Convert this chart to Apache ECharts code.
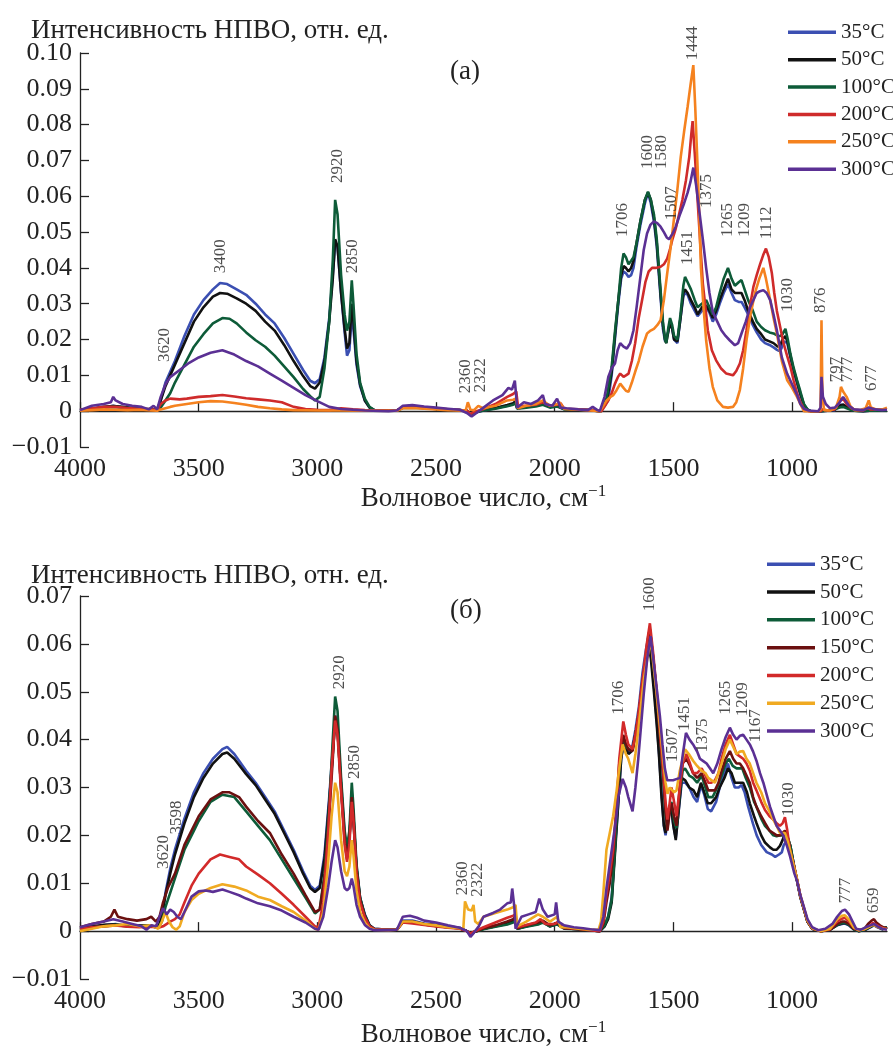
<!DOCTYPE html>
<html>
<head>
<meta charset="utf-8">
<title>НПВО спектры</title>
<script src="https://cdn.jsdelivr.net/npm/echarts@6/dist/echarts.min.js"></script>
<style>
html, body { margin: 0; padding: 0; background: #fff; }
#main { width: 893px; height: 1049px; }
</style>
</head>
<body>
<div id="main"></div>
<script>
// ---- data: [wavenumber, intensity] ----
var xTicks = [4000, 3500, 3000, 2500, 2000, 1500, 1000];
var tempNames = ['35°C', '50°C', '100°C', '150°C', '200°C', '250°C', '300°C'];

// panel (а)
var a35 = [[4000,0.0003],[3950,0.0008],[3900,0.001],[3860,0.0015],[3820,0.001],[3780,0.0008],[3740,0.0006],[3700,0.0005],[3675,0.0003],[3660,0.003],[3640,0.008],[3620,0.011],[3600,0.014],[3560,0.021],[3520,0.027],[3480,0.031],[3440,0.034],[3410,0.0358],[3380,0.0355],[3340,0.034],[3300,0.0325],[3260,0.030],[3220,0.027],[3180,0.0245],[3140,0.0205],[3100,0.016],[3060,0.0115],[3030,0.0085],[3010,0.0078],[2990,0.009],[2970,0.015],[2950,0.026],[2935,0.038],[2925,0.047],[2915,0.046],[2900,0.033],[2885,0.022],[2875,0.0155],[2865,0.017],[2855,0.027],[2848,0.023],[2835,0.013],[2820,0.007],[2800,0.003],[2780,0.001],[2760,0.0003],[2700,0.0001],[2665,0.0002],[2640,0.001],[2600,0.0012],[2550,0.001],[2500,0.0007],[2450,0.0005],[2400,0.0003],[2370,0.0002],[2355,-0.0012],[2340,-0.0005],[2300,0.0002],[2250,0.0008],[2200,0.0015],[2175,0.002],[2165,0.0025],[2158,0.0008],[2120,0.0012],[2080,0.0015],[2050,0.002],[2020,0.0012],[1990,0.0015],[1960,0.0006],[1900,0.0004],[1850,0.0003],[1810,0],[1790,0.0015],[1775,0.003],[1760,0.010],[1745,0.021],[1732,0.030],[1720,0.037],[1710,0.039],[1700,0.0385],[1689,0.0375],[1678,0.038],[1668,0.040],[1655,0.046],[1639,0.052],[1620,0.058],[1607,0.061],[1595,0.058],[1582,0.053],[1570,0.046],[1561,0.038],[1552,0.030],[1544,0.023],[1535,0.0195],[1530,0.019],[1522,0.022],[1514,0.025],[1505,0.023],[1497,0.020],[1483,0.019],[1470,0.026],[1458,0.032],[1451,0.033],[1440,0.0325],[1426,0.030],[1410,0.028],[1398,0.0265],[1380,0.028],[1362,0.029],[1348,0.0275],[1334,0.025],[1320,0.027],[1305,0.030],[1288,0.033],[1270,0.0355],[1255,0.033],[1241,0.031],[1225,0.0305],[1213,0.0305],[1200,0.029],[1185,0.027],[1165,0.024],[1149,0.022],[1130,0.020],[1114,0.019],[1095,0.0185],[1078,0.0178],[1065,0.0172],[1055,0.0168],[1045,0.0175],[1035,0.0195],[1020,0.019],[1007,0.015],[993,0.011],[979,0.0078],[965,0.0045],[950,0.0015],[935,0.0004],[922,0],[880,0],[850,0.0001],[820,0.0003],[805,0.0012],[797,0.0018],[785,0.0018],[770,0.0012],[750,0.0005],[730,0.0002],[700,0],[660,0.0002],[630,0.0001],[600,0.0002]];
var a50 = [[4000,0.0004],[3950,0.0006],[3900,0.0012],[3860,0.0014],[3820,0.0012],[3780,0.0009],[3740,0.0007],[3700,0.0006],[3675,0.0004],[3660,0.003],[3640,0.007],[3620,0.010],[3600,0.013],[3560,0.019],[3520,0.025],[3480,0.029],[3440,0.032],[3410,0.033],[3380,0.0328],[3340,0.0315],[3300,0.030],[3260,0.028],[3220,0.025],[3180,0.0225],[3140,0.0185],[3100,0.014],[3060,0.0098],[3030,0.007],[3010,0.0063],[2990,0.008],[2970,0.014],[2950,0.025],[2935,0.037],[2925,0.048],[2915,0.046],[2900,0.033],[2885,0.023],[2875,0.0175],[2865,0.019],[2855,0.030],[2848,0.025],[2835,0.014],[2820,0.0075],[2800,0.003],[2780,0.001],[2760,0.0003],[2700,0.0001],[2665,0.0002],[2640,0.001],[2600,0.0011],[2550,0.0009],[2500,0.0006],[2450,0.0004],[2400,0.0003],[2370,0.0001],[2355,-0.001],[2340,-0.0004],[2300,0.0003],[2250,0.0009],[2200,0.0017],[2175,0.0022],[2165,0.0028],[2158,0.0009],[2120,0.0013],[2080,0.0016],[2050,0.0022],[2020,0.0013],[1990,0.0016],[1960,0.0006],[1900,0.0004],[1850,0.0003],[1810,0],[1790,0.0015],[1780,0.003],[1760,0.011],[1745,0.022],[1732,0.031],[1720,0.038],[1710,0.0405],[1700,0.040],[1689,0.039],[1678,0.040],[1668,0.042],[1655,0.047],[1639,0.053],[1620,0.059],[1607,0.061],[1595,0.059],[1582,0.054],[1570,0.047],[1561,0.039],[1552,0.031],[1544,0.024],[1535,0.020],[1530,0.019],[1522,0.022],[1514,0.025],[1505,0.023],[1497,0.020],[1483,0.0195],[1470,0.026],[1458,0.033],[1451,0.034],[1440,0.033],[1426,0.031],[1410,0.029],[1398,0.027],[1380,0.029],[1362,0.0295],[1348,0.028],[1334,0.026],[1320,0.028],[1305,0.031],[1288,0.034],[1270,0.037],[1255,0.034],[1241,0.033],[1225,0.033],[1213,0.033],[1200,0.031],[1185,0.028],[1165,0.025],[1149,0.023],[1130,0.0215],[1114,0.020],[1095,0.0195],[1078,0.019],[1060,0.018],[1050,0.0185],[1040,0.020],[1028,0.021],[1018,0.019],[1007,0.0155],[993,0.0115],[979,0.0082],[965,0.005],[950,0.0018],[935,0.0004],[922,0],[880,0],[850,0.0001],[820,0.0004],[805,0.0015],[797,0.002],[785,0.0018],[770,0.0012],[750,0.0004],[730,0.0002],[700,0],[660,0.0002],[630,0.0001],[600,0.0002]];
var a100 = [[4000,0.0003],[3950,0.0007],[3900,0.001],[3860,0.0012],[3820,0.001],[3780,0.0008],[3740,0.0006],[3700,0.0005],[3675,0.0003],[3660,0.001],[3640,0.003],[3620,0.005],[3600,0.008],[3560,0.013],[3520,0.018],[3480,0.0215],[3440,0.0245],[3400,0.026],[3370,0.0258],[3340,0.0245],[3300,0.022],[3260,0.0198],[3220,0.018],[3180,0.0155],[3140,0.0125],[3100,0.0095],[3060,0.0062],[3030,0.0042],[3010,0.003],[2990,0.004],[2970,0.012],[2950,0.025],[2935,0.042],[2925,0.059],[2915,0.055],[2900,0.038],[2885,0.027],[2875,0.0225],[2865,0.025],[2855,0.0365],[2848,0.030],[2835,0.016],[2820,0.008],[2800,0.0035],[2780,0.0012],[2760,0.0003],[2700,0.0001],[2665,0.0002],[2640,0.0009],[2600,0.001],[2550,0.0008],[2500,0.0006],[2450,0.0004],[2400,0.0003],[2370,0.0001],[2355,-0.001],[2340,-0.0004],[2300,0.0002],[2250,0.0007],[2200,0.0014],[2175,0.0018],[2165,0.0022],[2158,0.0007],[2120,0.001],[2080,0.0013],[2050,0.0018],[2020,0.001],[1990,0.0013],[1960,0.0005],[1900,0.0004],[1850,0.0003],[1803,0],[1780,0.004],[1760,0.0124],[1745,0.023],[1732,0.031],[1720,0.040],[1710,0.044],[1700,0.043],[1689,0.041],[1678,0.042],[1668,0.043],[1655,0.047],[1639,0.053],[1620,0.059],[1607,0.0613],[1595,0.059],[1582,0.055],[1570,0.048],[1561,0.040],[1552,0.032],[1544,0.025],[1535,0.020],[1530,0.019],[1522,0.023],[1514,0.026],[1505,0.024],[1497,0.021],[1483,0.020],[1470,0.027],[1458,0.035],[1451,0.0375],[1440,0.036],[1426,0.034],[1410,0.031],[1398,0.029],[1380,0.030],[1362,0.031],[1348,0.029],[1334,0.027],[1320,0.029],[1305,0.033],[1288,0.037],[1270,0.040],[1255,0.037],[1241,0.035],[1225,0.036],[1213,0.0366],[1200,0.034],[1185,0.031],[1165,0.028],[1149,0.025],[1130,0.0235],[1114,0.0226],[1095,0.022],[1078,0.0217],[1060,0.021],[1050,0.021],[1040,0.0215],[1028,0.023],[1018,0.020],[1007,0.016],[993,0.012],[979,0.0087],[965,0.0055],[950,0.002],[935,0.0005],[922,0],[880,0],[850,0.0002],[820,0.0005],[800,0.001],[785,0.0012],[770,0.0008],[750,0.0003],[720,0],[680,0.0002],[650,0.0001],[620,0.0002],[600,0.0002]];
var a200 = [[4000,0.0004],[3950,0.0008],[3900,0.0012],[3850,0.0012],[3800,0.0009],[3750,0.0007],[3700,0.0005],[3675,0.0004],[3660,0.002],[3640,0.003],[3620,0.0035],[3580,0.0033],[3550,0.0035],[3500,0.004],[3450,0.0042],[3400,0.0045],[3350,0.0041],[3300,0.0036],[3250,0.0033],[3200,0.003],[3150,0.0025],[3100,0.0012],[3050,0.0006],[3000,0.0004],[2950,0.0003],[2900,0.0008],[2850,0.0005],[2800,0.0003],[2700,0.0002],[2665,0.0002],[2640,0.0012],[2600,0.0013],[2550,0.0011],[2500,0.0008],[2450,0.0005],[2400,0.0003],[2370,0.0002],[2355,-0.0008],[2340,-0.0002],[2300,0.0006],[2250,0.002],[2200,0.004],[2175,0.0048],[2162,0.0055],[2155,0.0015],[2120,0.0015],[2080,0.0018],[2050,0.0025],[2020,0.0015],[1990,0.0018],[1975,0.0022],[1960,0.0007],[1900,0.0005],[1850,0.0003],[1803,0],[1788,0.0015],[1774,0.003],[1760,0.005],[1746,0.0077],[1734,0.0095],[1724,0.0105],[1710,0.0096],[1700,0.010],[1689,0.0105],[1675,0.014],[1661,0.019],[1646,0.026],[1632,0.031],[1618,0.036],[1604,0.039],[1590,0.040],[1575,0.040],[1554,0.0403],[1540,0.041],[1526,0.0426],[1515,0.045],[1504,0.048],[1490,0.051],[1476,0.055],[1462,0.059],[1447,0.0645],[1433,0.071],[1425,0.077],[1419,0.081],[1410,0.072],[1398,0.059],[1387,0.047],[1376,0.0357],[1365,0.029],[1355,0.0226],[1338,0.017],[1320,0.0142],[1300,0.012],[1277,0.0105],[1249,0.010],[1235,0.0112],[1220,0.0133],[1206,0.017],[1192,0.0226],[1178,0.029],[1163,0.0347],[1149,0.038],[1135,0.041],[1122,0.0435],[1110,0.0454],[1098,0.043],[1085,0.0385],[1075,0.033],[1064,0.028],[1050,0.0235],[1036,0.019],[1021,0.0155],[1007,0.0124],[993,0.0085],[979,0.005],[965,0.0025],[950,0.0007],[930,0],[880,0],[870,0.0005],[850,0.0002],[820,0.0005],[805,0.002],[797,0.0035],[790,0.003],[780,0.003],[770,0.002],[750,0.0008],[730,0.0003],[700,0.0002],[680,0.001],[670,0.0005],[640,0.0005],[600,0.0005]];
var a250 = [[4000,0.0001],[3950,0.0003],[3900,0.0005],[3850,0.0004],[3800,0.0003],[3750,0.0004],[3700,0.0002],[3675,0.0001],[3660,0.0005],[3620,0.0012],[3600,0.0015],[3550,0.002],[3500,0.0025],[3450,0.0028],[3400,0.0027],[3350,0.0023],[3300,0.0018],[3250,0.0012],[3200,0.0008],[3150,0.0005],[3100,0.0003],[3000,0.0002],[2900,0.0002],[2800,0.0001],[2700,0.0001],[2665,0.0001],[2640,0.0008],[2600,0.0009],[2550,0.0007],[2500,0.0005],[2450,0.0003],[2400,0.0002],[2375,0.0002],[2366,0.0025],[2355,0.0004],[2340,0.0003],[2322,0.0015],[2300,0.0008],[2250,0.0015],[2200,0.003],[2175,0.0032],[2165,0.0035],[2155,0.0008],[2120,0.0015],[2080,0.002],[2050,0.003],[2020,0.0015],[1990,0.002],[1980,0.0025],[1960,0.0006],[1900,0.0004],[1850,0.0002],[1810,0],[1795,0.0015],[1781,0.003],[1765,0.004],[1753,0.0045],[1740,0.0058],[1724,0.0077],[1710,0.0065],[1700,0.0057],[1689,0.0054],[1675,0.008],[1661,0.011],[1646,0.014],[1630,0.018],[1611,0.0217],[1596,0.0225],[1582,0.023],[1568,0.024],[1554,0.0254],[1540,0.031],[1526,0.0385],[1511,0.046],[1497,0.054],[1483,0.062],[1469,0.071],[1455,0.078],[1440,0.085],[1428,0.091],[1416,0.0966],[1408,0.085],[1398,0.068],[1391,0.055],[1384,0.040],[1373,0.029],[1362,0.0198],[1348,0.012],[1334,0.0068],[1315,0.003],[1291,0.0012],[1270,0.001],[1249,0.0012],[1235,0.0025],[1220,0.0059],[1206,0.012],[1192,0.0198],[1175,0.027],[1156,0.033],[1138,0.037],[1121,0.040],[1110,0.037],[1092,0.031],[1078,0.026],[1064,0.0217],[1043,0.014],[1021,0.0087],[1000,0.0065],[979,0.004],[965,0.002],[950,0],[890,0],[880,0.0003],[876,0.0254],[872,0.004],[865,0.0003],[840,0.0002],[815,0.001],[800,0.004],[794,0.0068],[785,0.0055],[780,0.006],[770,0.004],[755,0.0015],[737,0.0003],[710,0.0004],[690,0.0008],[677,0.003],[668,0.001],[650,0.0006],[620,0.0005],[600,0.001]];
var a300 = [[4000,0.0003],[3950,0.0015],[3900,0.002],[3870,0.0025],[3860,0.004],[3850,0.003],[3820,0.002],[3780,0.0015],[3740,0.0012],[3710,0.0005],[3690,0.0015],[3675,0.0005],[3660,0.004],[3640,0.0075],[3620,0.0095],[3580,0.0115],[3540,0.0135],[3500,0.015],[3450,0.0163],[3400,0.017],[3350,0.0158],[3300,0.014],[3250,0.0125],[3200,0.0105],[3150,0.0085],[3100,0.0065],[3050,0.0045],[3000,0.0028],[2950,0.0012],[2900,0.0006],[2850,0.0004],[2800,0.0002],[2700,0],[2665,0.0002],[2640,0.0015],[2600,0.0017],[2550,0.0013],[2500,0.001],[2450,0.0007],[2400,0.0004],[2370,-0.0005],[2350,-0.0015],[2330,-0.0005],[2300,0.001],[2260,0.003],[2220,0.0045],[2195,0.0065],[2180,0.006],[2168,0.0085],[2158,0.001],[2130,0.0025],[2100,0.002],[2070,0.003],[2050,0.0045],[2040,0.002],[2010,0.0015],[1990,0.0035],[1985,0.004],[1975,0.001],[1950,0.0008],[1900,0.0005],[1860,0.0003],[1840,0.0012],[1820,0.0003],[1810,0],[1790,0.004],[1774,0.0096],[1760,0.012],[1746,0.0133],[1735,0.017],[1724,0.019],[1710,0.018],[1696,0.0175],[1682,0.019],[1668,0.0226],[1655,0.029],[1639,0.0375],[1625,0.045],[1611,0.0496],[1597,0.052],[1582,0.053],[1568,0.0525],[1554,0.0515],[1540,0.050],[1528,0.0485],[1518,0.048],[1504,0.0495],[1490,0.0515],[1472,0.055],[1455,0.058],[1440,0.061],[1428,0.064],[1416,0.068],[1404,0.063],[1391,0.056],[1376,0.048],[1362,0.040],[1348,0.033],[1334,0.0277],[1315,0.025],[1298,0.0226],[1280,0.021],[1263,0.0198],[1241,0.0184],[1227,0.019],[1213,0.0217],[1195,0.025],[1177,0.029],[1163,0.031],[1149,0.033],[1135,0.0335],[1121,0.0338],[1107,0.033],[1092,0.031],[1078,0.027],[1064,0.0226],[1043,0.015],[1021,0.0105],[1000,0.0075],[979,0.0045],[965,0.002],[950,0.0007],[930,0.0002],[890,0],[880,0.001],[876,0.0096],[870,0.004],[858,0.002],[840,0.0008],[820,0.001],[805,0.002],[794,0.003],[785,0.004],[775,0.003],[760,0.0015],[740,0.0005],[700,0.0003],[677,0.001],[650,0.0005],[620,0.0003],[600,0.0004]];

// panel (б)
var b35 = [[4000,0.0005],[3950,0.001],[3900,0.0012],[3850,0.0015],[3800,0.001],[3750,0.0012],[3700,0.001],[3670,0.0008],[3655,0.003],[3640,0.008],[3620,0.013],[3600,0.017],[3560,0.0235],[3520,0.029],[3480,0.033],[3440,0.036],[3400,0.038],[3380,0.0385],[3350,0.037],[3300,0.0335],[3260,0.031],[3220,0.028],[3180,0.025],[3140,0.021],[3100,0.017],[3060,0.0125],[3030,0.0095],[3010,0.0086],[2990,0.0095],[2970,0.016],[2950,0.028],[2935,0.038],[2925,0.045],[2915,0.043],[2900,0.031],[2885,0.020],[2875,0.017],[2865,0.020],[2855,0.028],[2848,0.024],[2835,0.0135],[2820,0.007],[2800,0.0035],[2780,0.0012],[2760,0.0005],[2700,0.0003],[2665,0.0003],[2640,0.0022],[2600,0.0022],[2550,0.0016],[2500,0.0013],[2450,0.001],[2400,0.0007],[2370,0],[2355,-0.0008],[2340,-0.0002],[2300,0.0005],[2250,0.001],[2200,0.0015],[2175,0.002],[2165,0.0025],[2158,0.0005],[2120,0.001],[2070,0.0015],[2050,0.002],[2020,0.001],[1990,0.0015],[1960,0.0006],[1900,0.0004],[1850,0.0002],[1810,0],[1790,0.001],[1775,0.003],[1760,0.007],[1745,0.018],[1732,0.027],[1720,0.036],[1710,0.040],[1700,0.039],[1689,0.0375],[1675,0.038],[1660,0.042],[1645,0.047],[1630,0.054],[1615,0.059],[1605,0.0615],[1595,0.058],[1582,0.0515],[1570,0.044],[1561,0.0375],[1550,0.029],[1540,0.022],[1533,0.020],[1522,0.024],[1511,0.026],[1500,0.022],[1490,0.0195],[1478,0.025],[1465,0.031],[1450,0.031],[1433,0.030],[1415,0.028],[1400,0.027],[1384,0.0305],[1370,0.0285],[1355,0.0255],[1341,0.025],[1320,0.027],[1305,0.030],[1285,0.033],[1270,0.035],[1255,0.032],[1241,0.030],[1225,0.030],[1213,0.0305],[1200,0.029],[1185,0.026],[1165,0.0225],[1149,0.020],[1130,0.018],[1107,0.0165],[1085,0.016],[1071,0.0155],[1055,0.016],[1043,0.0165],[1035,0.018],[1020,0.019],[1007,0.0175],[990,0.013],[979,0.0105],[965,0.007],[950,0.0045],[935,0.002],[915,0.0005],[880,0],[840,0.0003],[810,0.0012],[790,0.0015],[777,0.0016],[760,0.0012],[740,0.0004],[720,0],[690,0.0003],[670,0.0008],[655,0.0012],[640,0.0008],[620,0.0004],[600,0.0008]];
var b50 = [[4000,0.0006],[3950,0.0009],[3900,0.0013],[3850,0.0014],[3800,0.0011],[3750,0.0012],[3700,0.0011],[3670,0.0008],[3655,0.003],[3640,0.0075],[3620,0.012],[3600,0.016],[3560,0.0225],[3520,0.028],[3480,0.032],[3440,0.035],[3400,0.037],[3380,0.0373],[3350,0.036],[3300,0.0328],[3260,0.0305],[3220,0.0275],[3180,0.0245],[3140,0.0205],[3100,0.0165],[3060,0.012],[3030,0.009],[3010,0.0082],[2990,0.009],[2970,0.015],[2950,0.027],[2935,0.037],[2925,0.044],[2915,0.042],[2900,0.030],[2885,0.0195],[2875,0.017],[2865,0.0195],[2855,0.027],[2848,0.023],[2835,0.013],[2820,0.0068],[2800,0.0033],[2780,0.0012],[2760,0.0005],[2700,0.0003],[2665,0.0003],[2640,0.002],[2600,0.002],[2550,0.0015],[2500,0.0012],[2450,0.0009],[2400,0.0006],[2370,0],[2355,-0.0007],[2340,-0.0002],[2300,0.0005],[2250,0.001],[2200,0.0016],[2175,0.0021],[2165,0.0026],[2158,0.0005],[2120,0.001],[2070,0.0016],[2050,0.002],[2020,0.001],[1990,0.0015],[1960,0.0006],[1900,0.0004],[1850,0.0002],[1810,0],[1790,0.001],[1775,0.0025],[1760,0.006],[1745,0.017],[1732,0.027],[1720,0.036],[1710,0.039],[1700,0.038],[1689,0.037],[1675,0.0376],[1660,0.041],[1645,0.0455],[1630,0.052],[1615,0.057],[1605,0.060],[1595,0.057],[1582,0.050],[1570,0.043],[1561,0.037],[1550,0.028],[1540,0.022],[1533,0.0205],[1522,0.025],[1511,0.0267],[1500,0.022],[1490,0.019],[1478,0.025],[1465,0.032],[1450,0.0315],[1433,0.030],[1415,0.0294],[1400,0.028],[1384,0.031],[1370,0.029],[1355,0.0267],[1341,0.0267],[1320,0.028],[1305,0.030],[1285,0.032],[1270,0.034],[1255,0.033],[1241,0.031],[1225,0.031],[1206,0.031],[1190,0.029],[1178,0.0267],[1160,0.024],[1150,0.0226],[1130,0.020],[1114,0.0185],[1093,0.0175],[1079,0.017],[1065,0.017],[1051,0.0178],[1040,0.019],[1030,0.0205],[1020,0.0198],[1007,0.0178],[990,0.0132],[979,0.0106],[965,0.0072],[950,0.0046],[935,0.002],[915,0.0005],[880,0],[840,0.0003],[810,0.0013],[790,0.0016],[777,0.0017],[760,0.0013],[740,0.0004],[720,0],[690,0.0003],[670,0.0009],[655,0.0013],[640,0.0009],[620,0.0004],[600,0.0008]];
var b100 = [[4000,0.0004],[3950,0.0008],[3900,0.001],[3850,0.0013],[3800,0.001],[3750,0.0011],[3700,0.001],[3670,0.0007],[3655,0.002],[3640,0.005],[3620,0.008],[3600,0.011],[3560,0.017],[3520,0.021],[3500,0.023],[3450,0.027],[3400,0.0285],[3350,0.028],[3300,0.025],[3250,0.022],[3200,0.019],[3150,0.015],[3100,0.011],[3050,0.007],[3010,0.0037],[2990,0.0045],[2970,0.012],[2950,0.026],[2935,0.040],[2925,0.049],[2915,0.046],[2900,0.032],[2885,0.021],[2875,0.0175],[2865,0.021],[2855,0.031],[2848,0.026],[2835,0.014],[2820,0.007],[2800,0.0032],[2780,0.0011],[2760,0.0004],[2700,0.0003],[2665,0.0003],[2640,0.0018],[2600,0.0018],[2550,0.0014],[2500,0.0011],[2450,0.0008],[2400,0.0006],[2370,0],[2355,-0.0006],[2340,-0.0002],[2300,0.0004],[2250,0.0009],[2200,0.0014],[2175,0.0018],[2165,0.0022],[2158,0.0005],[2120,0.0009],[2070,0.0014],[2050,0.0018],[2020,0.001],[1990,0.0014],[1960,0.0005],[1900,0.0004],[1850,0.0002],[1810,0],[1790,0.0012],[1775,0.003],[1760,0.0065],[1745,0.018],[1732,0.030],[1720,0.038],[1711,0.040],[1700,0.0385],[1690,0.038],[1672,0.0378],[1660,0.041],[1648,0.0445],[1624,0.054],[1605,0.062],[1599,0.063],[1585,0.057],[1571,0.050],[1557,0.041],[1543,0.032],[1533,0.024],[1525,0.0215],[1515,0.026],[1508,0.027],[1497,0.023],[1487,0.0215],[1473,0.029],[1461,0.0335],[1451,0.034],[1433,0.0325],[1417,0.032],[1400,0.031],[1381,0.0325],[1365,0.030],[1353,0.028],[1335,0.028],[1315,0.030],[1297,0.0325],[1280,0.035],[1266,0.036],[1250,0.0345],[1234,0.034],[1210,0.034],[1195,0.032],[1178,0.030],[1160,0.027],[1150,0.026],[1130,0.0235],[1114,0.022],[1095,0.021],[1079,0.020],[1065,0.0198],[1051,0.020],[1040,0.020],[1030,0.0208],[1020,0.0198],[1007,0.0178],[990,0.0132],[979,0.0106],[965,0.0072],[950,0.0046],[935,0.002],[915,0.0005],[880,0],[840,0.0003],[810,0.0013],[790,0.0017],[777,0.0018],[760,0.0013],[740,0.0004],[720,0],[690,0.0004],[670,0.001],[655,0.0014],[640,0.001],[620,0.0005],[600,0.0008]];
var b150 = [[4000,0.0008],[3950,0.0015],[3900,0.002],[3870,0.003],[3855,0.0045],[3840,0.003],[3800,0.0025],[3760,0.0022],[3720,0.0025],[3700,0.003],[3680,0.002],[3665,0.003],[3650,0.006],[3630,0.009],[3600,0.012],[3560,0.018],[3500,0.024],[3450,0.0275],[3400,0.029],[3370,0.029],[3330,0.028],[3300,0.026],[3250,0.023],[3200,0.0205],[3150,0.016],[3100,0.012],[3050,0.0075],[3010,0.004],[2990,0.0045],[2970,0.011],[2950,0.024],[2935,0.036],[2925,0.045],[2915,0.042],[2900,0.030],[2885,0.019],[2875,0.015],[2865,0.019],[2855,0.028],[2848,0.024],[2835,0.013],[2820,0.0065],[2800,0.003],[2780,0.001],[2760,0.0004],[2700,0.0003],[2665,0.0003],[2640,0.0019],[2600,0.0019],[2550,0.0014],[2500,0.0011],[2450,0.0008],[2400,0.0006],[2370,0],[2355,-0.0006],[2340,-0.0002],[2300,0.0006],[2250,0.0012],[2200,0.002],[2175,0.0025],[2165,0.003],[2158,0.0006],[2120,0.0012],[2070,0.0018],[2050,0.0022],[2020,0.0012],[1990,0.0017],[1960,0.0006],[1900,0.0004],[1850,0.0002],[1810,0],[1795,0.0015],[1782,0.006],[1768,0.010],[1754,0.0157],[1740,0.025],[1728,0.035],[1711,0.041],[1700,0.039],[1690,0.038],[1672,0.0376],[1660,0.041],[1648,0.0445],[1624,0.054],[1599,0.063],[1585,0.057],[1571,0.050],[1557,0.041],[1543,0.033],[1533,0.025],[1525,0.021],[1515,0.025],[1508,0.0267],[1497,0.024],[1487,0.022],[1473,0.030],[1461,0.035],[1445,0.036],[1430,0.0345],[1417,0.033],[1400,0.032],[1381,0.033],[1365,0.031],[1353,0.0294],[1325,0.0294],[1310,0.031],[1297,0.0335],[1280,0.036],[1262,0.0376],[1248,0.036],[1234,0.035],[1220,0.035],[1206,0.034],[1192,0.0325],[1178,0.031],[1164,0.028],[1150,0.026],[1130,0.024],[1114,0.0226],[1095,0.021],[1079,0.0205],[1065,0.020],[1051,0.020],[1040,0.0205],[1030,0.021],[1020,0.0198],[1009,0.017],[990,0.0132],[979,0.0106],[965,0.0072],[950,0.0046],[935,0.002],[915,0.0005],[880,0],[840,0.0003],[810,0.0015],[790,0.002],[777,0.002],[760,0.0015],[740,0.0005],[720,0.0002],[695,0.0005],[680,0.0015],[665,0.0022],[655,0.0025],[645,0.0018],[630,0.0012],[615,0.0008],[600,0.0005]];
var b200 = [[4000,0.0005],[3950,0.0008],[3900,0.001],[3850,0.0012],[3800,0.0009],[3750,0.0008],[3700,0.0009],[3670,0.0007],[3650,0.001],[3620,0.002],[3600,0.0025],[3580,0.0035],[3560,0.006],[3530,0.0095],[3500,0.012],[3450,0.015],[3410,0.016],[3370,0.0155],[3330,0.015],[3300,0.0135],[3250,0.0118],[3200,0.010],[3150,0.0078],[3100,0.0055],[3050,0.003],[3010,0.001],[2995,0.0008],[2975,0.006],[2955,0.020],[2940,0.034],[2925,0.044],[2915,0.041],[2900,0.029],[2885,0.018],[2875,0.0145],[2865,0.018],[2855,0.027],[2848,0.023],[2835,0.012],[2820,0.006],[2800,0.0028],[2780,0.001],[2760,0.0004],[2700,0.0003],[2665,0.0003],[2640,0.0018],[2600,0.0016],[2550,0.0013],[2500,0.001],[2450,0.0007],[2400,0.0005],[2370,0],[2355,-0.0005],[2340,-0.0001],[2300,0.0008],[2250,0.0018],[2200,0.0028],[2175,0.0032],[2165,0.0036],[2158,0.0008],[2120,0.0013],[2080,0.0018],[2060,0.0025],[2040,0.0015],[2000,0.0015],[1985,0.002],[1960,0.0007],[1900,0.0005],[1850,0.0002],[1810,0],[1795,0.002],[1782,0.0075],[1768,0.012],[1754,0.017],[1740,0.026],[1728,0.036],[1711,0.0438],[1700,0.041],[1690,0.039],[1672,0.038],[1660,0.041],[1648,0.045],[1636,0.050],[1624,0.0548],[1612,0.060],[1599,0.0643],[1585,0.058],[1571,0.0506],[1557,0.042],[1543,0.0335],[1533,0.027],[1525,0.0233],[1515,0.027],[1508,0.030],[1497,0.027],[1487,0.024],[1473,0.030],[1461,0.035],[1445,0.037],[1430,0.035],[1417,0.033],[1400,0.033],[1381,0.034],[1365,0.0325],[1353,0.031],[1340,0.031],[1325,0.0315],[1310,0.033],[1297,0.036],[1280,0.039],[1262,0.041],[1248,0.039],[1234,0.037],[1220,0.0365],[1206,0.036],[1192,0.035],[1178,0.0335],[1164,0.031],[1150,0.0294],[1130,0.027],[1114,0.0253],[1095,0.024],[1079,0.0233],[1065,0.0225],[1051,0.022],[1040,0.0225],[1030,0.0238],[1020,0.021],[1009,0.017],[990,0.0132],[979,0.0108],[965,0.0074],[950,0.0048],[935,0.0022],[915,0.0006],[880,0],[840,0.0004],[810,0.002],[790,0.0026],[777,0.0028],[760,0.002],[740,0.0007],[720,0.0002],[695,0.0004],[675,0.001],[660,0.0017],[645,0.0013],[630,0.0009],[615,0.0006],[600,0.0005]];
var b250 = [[4000,0],[3950,0.0005],[3900,0.001],[3850,0.0012],[3800,0.0015],[3750,0.001],[3700,0.0012],[3670,0.0005],[3655,0.002],[3640,0.004],[3625,0.002],[3610,0.0008],[3595,0.0003],[3580,0.001],[3560,0.004],[3530,0.0065],[3500,0.0078],[3450,0.009],[3400,0.0098],[3350,0.0093],[3300,0.0085],[3250,0.0072],[3200,0.0065],[3150,0.0052],[3100,0.004],[3050,0.0022],[3010,0.0005],[2995,0.0003],[2975,0.004],[2955,0.014],[2940,0.024],[2925,0.031],[2915,0.029],[2900,0.019],[2885,0.0125],[2875,0.0115],[2865,0.0135],[2855,0.019],[2848,0.016],[2835,0.0085],[2820,0.004],[2800,0.0018],[2780,0.0006],[2760,0.0003],[2700,0.0002],[2665,0.0003],[2640,0.002],[2600,0.002],[2550,0.0015],[2500,0.0012],[2450,0.0008],[2400,0.0006],[2385,0.0005],[2378,0.0062],[2365,0.0045],[2350,0.0043],[2342,0.0055],[2335,0.002],[2322,0.0015],[2300,0.003],[2250,0.0038],[2200,0.0045],[2175,0.005],[2165,0.0055],[2158,0.001],[2120,0.002],[2070,0.0035],[2050,0.003],[2020,0.002],[1990,0.003],[1975,0.0008],[1950,0.0008],[1900,0.0005],[1850,0.0003],[1815,0.0003],[1805,0.002],[1795,0.008],[1782,0.017],[1768,0.0205],[1754,0.024],[1740,0.029],[1728,0.034],[1714,0.039],[1700,0.037],[1690,0.036],[1672,0.033],[1660,0.037],[1648,0.042],[1624,0.0527],[1596,0.061],[1585,0.056],[1571,0.050],[1557,0.043],[1543,0.036],[1533,0.031],[1525,0.0287],[1515,0.030],[1508,0.030],[1497,0.029],[1487,0.0294],[1473,0.0335],[1451,0.038],[1435,0.037],[1417,0.0356],[1400,0.0345],[1381,0.0335],[1365,0.033],[1353,0.032],[1325,0.031],[1310,0.033],[1297,0.035],[1280,0.038],[1262,0.040],[1248,0.0385],[1234,0.037],[1220,0.0375],[1206,0.0376],[1192,0.036],[1178,0.035],[1164,0.033],[1150,0.031],[1130,0.029],[1114,0.0267],[1095,0.025],[1079,0.0233],[1065,0.022],[1051,0.0205],[1040,0.0205],[1030,0.0205],[1020,0.019],[1009,0.017],[990,0.013],[979,0.0108],[965,0.0074],[950,0.0048],[935,0.0022],[915,0.0006],[880,0],[840,0.0005],[810,0.0025],[790,0.0032],[777,0.0033],[760,0.0024],[740,0.0008],[720,0.0002],[695,0.0004],[675,0.0009],[660,0.0013],[645,0.001],[630,0.0007],[615,0.0005],[600,0.0004]];
var b300 = [[4000,0.0008],[3950,0.0015],[3900,0.002],[3860,0.0025],[3820,0.002],[3780,0.0015],[3740,0.001],[3720,0.0003],[3700,0.0012],[3680,0.001],[3665,0.003],[3650,0.0048],[3635,0.0035],[3620,0.0045],[3605,0.004],[3590,0.003],[3575,0.0025],[3560,0.004],[3530,0.0072],[3500,0.0083],[3470,0.0085],[3440,0.0082],[3400,0.0087],[3370,0.0082],[3330,0.0075],[3300,0.0068],[3250,0.0058],[3200,0.0052],[3150,0.0043],[3100,0.003],[3050,0.0018],[3010,0.0005],[2995,0.0003],[2975,0.003],[2955,0.009],[2940,0.0145],[2925,0.019],[2915,0.0175],[2900,0.0125],[2885,0.009],[2875,0.0085],[2865,0.009],[2855,0.011],[2848,0.0095],[2835,0.0055],[2820,0.003],[2800,0.0013],[2780,0.0005],[2760,0.0002],[2700,0.0002],[2665,0.0003],[2640,0.003],[2610,0.0032],[2580,0.0028],[2550,0.0022],[2500,0.0018],[2450,0.0012],[2400,0.0007],[2370,0],[2355,-0.0012],[2340,-0.0003],[2320,0.001],[2300,0.003],[2260,0.0038],[2230,0.0045],[2200,0.0058],[2185,0.006],[2179,0.0089],[2170,0.005],[2165,0.0005],[2140,0.003],[2110,0.0035],[2080,0.004],[2065,0.0068],[2050,0.0045],[2030,0.003],[2000,0.0035],[1994,0.006],[1985,0.002],[1960,0.0012],[1920,0.0008],[1880,0.0006],[1850,0.0004],[1810,0.0002],[1795,0.003],[1782,0.0089],[1768,0.014],[1754,0.019],[1740,0.024],[1732,0.028],[1714,0.0318],[1700,0.030],[1690,0.028],[1672,0.025],[1660,0.030],[1648,0.036],[1636,0.043],[1624,0.050],[1610,0.057],[1596,0.0616],[1585,0.057],[1571,0.051],[1557,0.045],[1546,0.039],[1536,0.034],[1526,0.0315],[1515,0.0315],[1501,0.0315],[1485,0.0318],[1473,0.032],[1460,0.037],[1447,0.0414],[1432,0.040],[1417,0.039],[1400,0.0375],[1388,0.036],[1374,0.0355],[1360,0.035],[1346,0.034],[1332,0.033],[1315,0.035],[1297,0.038],[1280,0.0405],[1262,0.0425],[1248,0.041],[1234,0.040],[1220,0.0408],[1206,0.041],[1192,0.040],[1178,0.039],[1164,0.0375],[1150,0.0356],[1135,0.033],[1121,0.031],[1107,0.0285],[1093,0.026],[1079,0.024],[1065,0.022],[1051,0.021],[1037,0.020],[1023,0.018],[1009,0.0157],[990,0.012],[979,0.0105],[965,0.0075],[950,0.005],[935,0.0025],[915,0.0008],[890,0.0002],[860,0.0005],[830,0.0015],[810,0.003],[790,0.0042],[777,0.0045],[760,0.0035],[745,0.002],[730,0.0005],[710,0.0003],[690,0.0008],[670,0.0012],[655,0.0015],[640,0.001],[620,0.0005],[600,0.0003]];

// peak labels: [wavenumber, value at the foot of the text, text]
var peaksA = [[3642,0.0137,'3620'],[3410,0.0385,'3400'],[2913,0.0637,'2920'],[2850,0.0385,'2850'],
  [2374,0.005,'2360'],[2311,0.0053,'2322'],[1713,0.0486,'1706'],[1607,0.0676,'1600'],[1552,0.0676,'1580'],
  [1506,0.0533,'1507'],[1439,0.0408,'1451'],[1418,0.098,'1444'],[1359,0.0567,'1375'],[1270,0.0486,'1265'],
  [1199,0.0486,'1209'],[1106,0.048,'1112'],[1018,0.0277,'1030'],[878,0.0274,'876'],[811,0.0081,'797'],
  [765,0.0081,'777'],[664,0.0056,'677']];
var peaksB = [[3649,0.013,'3620'],[3593,0.0202,'3598'],[2906,0.0505,'2920'],[2843,0.0318,'2850'],
  [2388,0.0075,'2360'],[2325,0.0072,'2322'],[1732,0.0452,'1706'],[1601,0.0668,'1600'],[1504,0.0353,'1507'],
  [1452,0.0418,'1451'],[1376,0.0373,'1375'],[1280,0.0452,'1265'],[1210,0.0449,'1209'],[1156,0.0394,'1167'],
  [1014,0.024,'1030'],[776,0.0058,'777'],[655,0.0038,'659']];

var seriesA = [a35, a50, a100, a200, a250, a300];
var namesA = ['35°C', '50°C', '100°C', '200°C', '250°C', '300°C'];
var colorsA = ['#3b4fb2', '#111111', '#0d5b38', '#cf2b2b', '#f5821f', '#5b3094'];
var seriesB = [b35, b50, b100, b150, b200, b250, b300];
var colorsB = ['#3b4fb2', '#111111', '#0d5b38', '#6b1010', '#d22a2a', '#f0aa22', '#5b3094'];

var FONT = '"Liberation Serif", "DejaVu Serif", serif';
var INK = '#222';

var chart = echarts.init(document.getElementById('main'), null, {renderer: 'canvas'});

function yFmt(v) {
	var r = Math.round(v * 100) / 100;
	if (r === 0) return '0';
	return (r < 0 ? '\u2212' : '') + Math.abs(r).toFixed(2);
}

function xAxis(gi, gap) {
	return {
		type: 'value', gridIndex: gi, inverse: true, min: 600, max: 4000,
		name: 'Волновое число, см{sup|\u22121}', nameLocation: 'middle', nameGap: gap,
		nameTextStyle: {fontFamily: FONT, fontSize: 27, color: INK,
			rich: {sup: {fontFamily: FONT, fontSize: 17, color: INK, verticalAlign: 'top', padding: [0, 0, 14, 0]}}},
		axisLine: {lineStyle: {color: INK, width: 1.3}},
		axisTick: {inside: true, length: 9, customValues: xTicks, lineStyle: {color: INK, width: 1.3}},
		axisLabel: {customValues: xTicks, formatter: function (v) { return String(v); },
			fontFamily: FONT, fontSize: 26, color: INK, margin: 9},
		splitLine: {show: false}
	};
}
function yAxis(gi, max) {
	return {
		type: 'value', gridIndex: gi, min: -0.01, max: max, interval: 0.01,
		axisLine: {show: true, lineStyle: {color: INK, width: 1.3}},
		axisTick: {show: true, inside: true, length: 9, lineStyle: {color: INK, width: 1.3}},
		axisLabel: {formatter: yFmt, fontFamily: FONT, fontSize: 26, color: INK, margin: 8},
		splitLine: {show: false}
	};
}

var series = [];
seriesA.forEach(function (d, i) {
	series.push({name: namesA[i], type: 'line', xAxisIndex: 0, yAxisIndex: 0, data: d,
		showSymbol: false, symbol: 'none', animation: false,
		lineStyle: {width: 2.6, color: colorsA[i]}, itemStyle: {color: colorsA[i]}});
});
seriesB.forEach(function (d, i) {
	// zero-width mark keeps the lower legend's colours apart from the upper one
	series.push({name: tempNames[i] + '\u200b', type: 'line', xAxisIndex: 1, yAxisIndex: 1, data: d,
		showSymbol: false, symbol: 'none', animation: false,
		lineStyle: {width: 2.6, color: colorsB[i]}, itemStyle: {color: colorsB[i]}});
});
function peakSeries(gi, list) {
	return {type: 'scatter', xAxisIndex: gi, yAxisIndex: gi, data: list, symbolSize: 1, silent: true,
		animation: false, itemStyle: {color: 'rgba(0,0,0,0)'}, z: 5,
		label: {show: true, position: 'inside', rotate: 90, align: 'left', verticalAlign: 'middle',
			formatter: function (p) { return p.value[2]; },
			fontFamily: FONT, fontSize: 17, color: INK}};
}
series.push(peakSeries(0, peaksA));
series.push(peakSeries(1, peaksB));

function legend(left, top, names, gap) {
	return {left: left, top: top, orient: 'vertical', icon: 'rect', itemWidth: 48, itemHeight: 3.5,
		itemGap: gap, data: names, selectedMode: false,
		formatter: function (n) { return n.replace('\u200b', ''); },
		textStyle: {fontFamily: FONT, fontSize: 21, lineHeight: 22.5, color: INK, padding: [0, 0, 0, 0]}};
}

option = {
	backgroundColor: '#fff',
	animation: false,
	title: [
		{text: 'Интенсивность НПВО, отн. ед.', left: 26, top: 12, textStyle: {fontFamily: FONT, fontSize: 27, fontWeight: 'normal', color: INK}},
		{text: 'Интенсивность НПВО, отн. ед.', left: 26, top: 557, textStyle: {fontFamily: FONT, fontSize: 27, fontWeight: 'normal', color: INK}},
		{text: '(а)', left: 445, top: 53, textStyle: {fontFamily: FONT, fontSize: 27, fontWeight: 'normal', color: INK}},
		{text: '(б)', left: 445, top: 592, textStyle: {fontFamily: FONT, fontSize: 27, fontWeight: 'normal', color: INK}}
	],
	legend: [
		legend(783, 16, namesA, 4.9),
		legend(762, 548, tempNames.map(function (n) { return n + '\u200b'; }), 5.3)
	],
	grid: [
		{left: 80, right: 6, top: 53, height: 394},
		{left: 80, right: 6, top: 596, height: 390}
	],
	xAxis: [xAxis(0, 36), xAxis(1, 40)],
	yAxis: [yAxis(0, 0.10), yAxis(1, 0.07)],
	series: series
};

chart.setOption(option);
</script>
</body>
</html>
